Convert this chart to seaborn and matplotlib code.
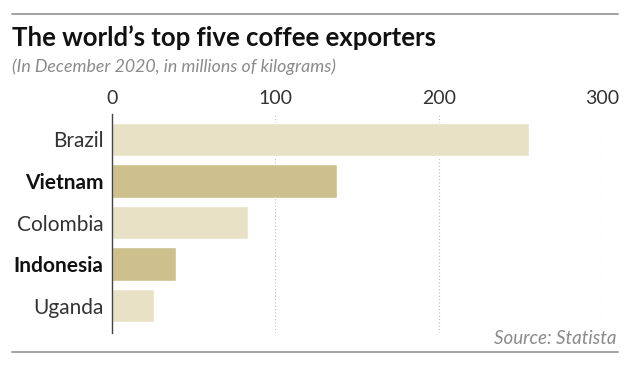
import matplotlib
matplotlib.use("Agg")
import matplotlib.pyplot as plt
import seaborn as sns
import pandas as pd
from matplotlib.lines import Line2D

countries = ["Brazil", "Vietnam", "Colombia", "Indonesia", "Uganda"]
exports = [255, 138, 83, 39, 26]
highlight = ["Vietnam", "Indonesia"]
xticks = [0, 100, 200, 300]

light = "#e9e1c6"
dark = "#cdc08c"

sns.set_style("white")
plt.rcParams["font.family"] = ["Lato", "DejaVu Sans"]

df = pd.DataFrame({"country": countries, "value": exports})
palette = {c: (dark if c in highlight else light) for c in countries}

fig = plt.figure(figsize=(6.3, 3.66), dpi=100)
ax = fig.add_axes([112 / 630, 1 - 333 / 366, (602 - 112) / 630, (333 - 114) / 366])

sns.barplot(data=df, x="value", y="country", hue="country", palette=palette,
            legend=False, width=0.8, saturation=1, ax=ax, zorder=2)

ax.set_xlim(0, 300)
ax.set_ylim(4.66, -0.614)
ax.set_xticks(xticks)
ax.set_xlabel("")
ax.set_ylabel("")
ax.xaxis.tick_top()
ax.tick_params(axis="x", length=0, pad=5, labelsize=14, labelcolor="#333333")
ax.tick_params(axis="y", length=0, pad=6, labelsize=15, labelcolor="#333333")
for lab in ax.get_yticklabels():
    if lab.get_text() in highlight:
        lab.set_fontweight("bold")
        lab.set_color("#111111")

ax.grid(axis="x", linestyle=(0, (1, 2)), color="#bdbdbd", linewidth=0.8, zorder=0)
ax.grid(axis="y", visible=False)
for s in ["top", "right", "bottom"]:
    ax.spines[s].set_visible(False)
ax.spines["left"].set_color("#444444")
ax.spines["left"].set_linewidth(1.0)
ax.spines["left"].set_zorder(3)

# rules top and bottom
fig.add_artist(Line2D([12 / 630, 618 / 630], [1 - 14 / 366] * 2, color="#9a9a9a", lw=1.3))
fig.add_artist(Line2D([12 / 630, 618 / 630], [1 - 352 / 366] * 2, color="#9a9a9a", lw=1.3))

fig.text(12 / 630, 1 - 46 / 366, "The world\u2019s top five coffee exporters",
         fontsize=18.5, fontweight="bold", color="#111111", va="baseline", ha="left")
fig.text(12 / 630, 1 - 72 / 366, "(In December 2020, in millions of kilograms)",
         fontsize=12.8, style="italic", color="#8a8a8a", va="baseline", ha="left")
fig.text(617 / 630, 1 - 344 / 366, "Source: Statista", fontsize=13.5, style="italic",
         color="#8a8a8a", va="baseline", ha="right",
         bbox=dict(facecolor="white", edgecolor="none", pad=3))

fig.savefig("out.png", dpi=100)
